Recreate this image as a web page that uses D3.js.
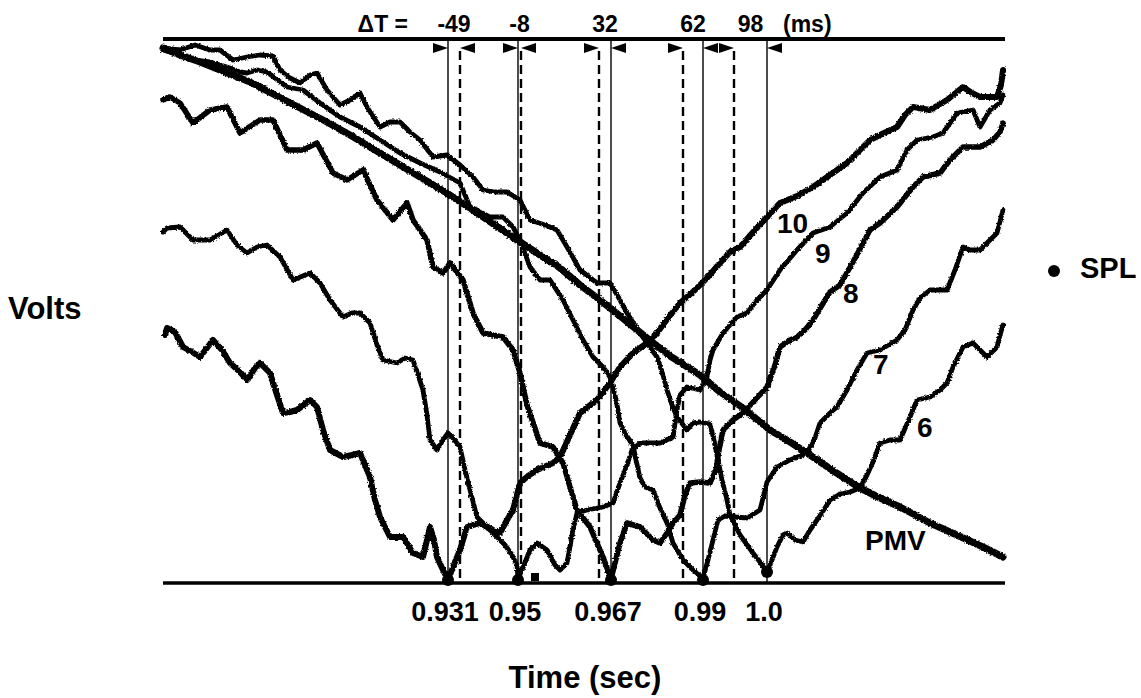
<!DOCTYPE html>
<html>
<head>
<meta charset="utf-8">
<script src="https://cdn.jsdelivr.net/npm/d3@7"></script>
<style>
  html, body { margin: 0; padding: 0; background: #fff; }
  svg { display: block; }
  text { font-family: "Liberation Sans", Arial, Helvetica, sans-serif; font-weight: bold; fill: #000; }
</style>
</head>
<body>
<div id="chart"></div>
<script>
// ---- data (time in samples of 0.5 ms from left edge, voltage in centivolts) ----
const pmv = [[0,535],[17,528],[37,521],[62,511],[87,501],[112,488],[137,475],[162,462],[187,448],[212,433],[237,418],[262,403],[282,391],[307,375],[332,358],[354,343],[377,328],[397,315],[417,298],[437,283],[457,267],[484,245],[507,227],[537,208],[557,191],[580,175],[607,153],[627,141],[644,130],[672,111],[697,95],[717,85],[737,76],[767,60],[787,51],[807,42],[822,35],[840,26]];

const trace10 = [[2,248],[4,255],[12,251],[20,236],[29,231],[37,226],[50,243],[59,233],[67,220],[77,211],[84,203],[92,215],[97,220],[107,210],[114,188],[120,170],[127,171],[134,173],[147,183],[154,176],[160,153],[167,133],[180,126],[189,128],[197,130],[207,106],[212,83],[217,66],[227,46],[240,46],[250,30],[255,28],[260,26],[264,43],[267,56],[271,43],[274,26],[280,13],[285,3],[292,21],[297,33],[304,56],[317,60],[330,53],[337,50],[344,63],[350,73],[357,100],[365,107],[374,113],[390,120],[397,126],[407,148],[417,170],[434,183],[447,200],[457,216],[470,230],[484,240],[494,250],[505,265],[517,280],[532,293],[544,305],[557,320],[567,331],[577,336],[592,353],[604,366],[617,380],[634,387],[650,396],[667,408],[684,420],[697,433],[707,443],[721,450],[734,456],[742,468],[750,476],[767,473],[784,483],[800,496],[809,490],[817,486],[834,486],[838,498],[840,513]];

const trace9 = [[0,351],[4,355],[17,356],[30,343],[47,343],[64,353],[74,338],[84,330],[94,336],[104,338],[117,326],[130,303],[147,310],[157,300],[167,283],[180,266],[189,270],[197,270],[207,260],[214,238],[220,223],[234,220],[242,225],[250,223],[255,208],[260,193],[264,168],[267,143],[274,133],[280,143],[285,150],[289,146],[297,136],[302,113],[307,93],[314,66],[327,53],[342,38],[349,28],[354,18],[355,5],[359,13],[367,33],[374,40],[384,33],[392,18],[397,13],[404,20],[410,53],[414,70],[424,73],[440,76],[450,80],[457,100],[464,118],[469,133],[477,140],[497,140],[510,146],[514,173],[517,188],[524,196],[537,193],[544,206],[547,223],[550,233],[560,250],[574,266],[584,270],[594,283],[604,293],[617,313],[634,333],[650,350],[667,356],[684,370],[700,390],[717,406],[734,413],[744,433],[754,443],[770,446],[780,450],[794,470],[810,473],[817,456],[827,473],[837,480],[840,488]];

const trace8 = [[0,483],[7,486],[17,480],[30,460],[47,473],[64,476],[77,450],[97,463],[110,463],[124,433],[140,433],[154,440],[170,410],[184,403],[200,413],[214,383],[230,363],[244,380],[250,363],[264,343],[270,316],[280,310],[287,320],[300,303],[310,270],[320,250],[340,246],[350,233],[357,210],[364,178],[377,140],[390,136],[400,120],[407,96],[414,73],[427,56],[440,26],[448,4],[457,40],[464,60],[477,56],[490,43],[497,40],[504,50],[510,60],[517,68],[522,88],[527,100],[537,101],[547,100],[553,113],[556,133],[560,153],[570,163],[580,170],[592,183],[604,196],[612,218],[617,236],[627,243],[634,246],[642,253],[650,263],[659,278],[667,291],[677,298],[690,321],[699,338],[707,353],[717,360],[734,376],[742,386],[750,396],[760,406],[777,410],[787,423],[800,436],[817,436],[830,443],[837,451],[840,460]];

const trace7 = [[0,533],[17,528],[30,523],[47,521],[64,516],[77,511],[84,510],[94,513],[104,511],[124,496],[140,493],[157,480],[177,466],[197,456],[217,443],[237,430],[257,420],[277,411],[297,400],[307,376],[314,373],[327,366],[340,366],[350,356],[357,343],[367,316],[377,303],[387,303],[400,283],[410,263],[420,243],[430,226],[440,216],[447,206],[452,188],[455,173],[457,160],[463,148],[470,138],[473,123],[477,105],[482,96],[490,93],[497,75],[504,60],[510,40],[520,23],[530,13],[540,5],[545,23],[550,43],[555,63],[562,67],[572,66],[584,65],[597,73],[604,101],[614,116],[627,123],[644,130],[652,145],[657,160],[667,170],[674,176],[684,193],[694,213],[704,230],[717,233],[734,243],[742,253],[750,273],[757,285],[767,293],[784,293],[792,313],[800,336],[807,333],[817,333],[827,343],[834,350],[840,373]];

const trace6 = [[0,535],[17,533],[32,538],[47,533],[57,533],[70,523],[84,526],[97,528],[110,527],[117,513],[127,505],[137,500],[147,508],[154,510],[164,493],[177,478],[187,483],[197,490],[204,476],[217,456],[227,461],[237,461],[247,451],[257,443],[270,426],[284,428],[297,418],[310,406],[320,393],[332,391],[344,391],[357,383],[367,363],[382,358],[394,353],[404,336],[417,313],[434,300],[447,300],[457,283],[464,270],[477,250],[482,243],[489,233],[494,226],[500,208],[504,193],[509,178],[514,166],[524,153],[530,160],[537,161],[547,159],[551,143],[555,123],[559,103],[564,83],[567,68],[577,48],[590,30],[597,21],[604,11],[609,23],[614,36],[620,48],[624,50],[632,43],[640,41],[647,53],[654,63],[662,75],[667,83],[677,89],[687,91],[697,95],[704,108],[710,121],[717,140],[727,143],[737,143],[747,166],[754,183],[767,186],[777,193],[784,200],[790,216],[800,236],[810,240],[824,226],[834,236],[837,248],[840,258]];

// SPL minima (time, voltage) and their time labels
const splTimes  = [285, 355, 448, 540, 604];
const splValues = [3, 3, 3, 3, 11];
const splLabels = ["0.931", "0.95", "0.967", "0.99", "1.0"];
// dashed reference lines and delta-T labels
const dashedTimes = [297, 358, 436, 520, 571];
const deltaLabels = ["-49", "-8", "32", "62", "98"];
// a stray square marker on the baseline
const squareMark = [372, 6];

const traceNames = ["10", "9", "8", "7", "6"];

// ---- layout ----
const W = 1141, H = 698;
const tMax = 842, vMax = 544;
const x = d3.scaleLinear().domain([0, tMax]).range([163, 1005]);
const y = d3.scaleLinear().domain([0, vMax]).range([583, 39]);

const svg = d3.select("#chart").append("svg").attr("width", W).attr("height", H);
svg.append("rect").attr("width", W).attr("height", H).attr("fill", "#fff");

const defs = svg.append("defs");
const f = defs.append("filter").attr("id", "rough").attr("x", "-5%").attr("y", "-5%").attr("width", "110%").attr("height", "110%");
f.append("feTurbulence").attr("type", "fractalNoise").attr("baseFrequency", 0.6).attr("numOctaves", 2).attr("seed", 3).attr("result", "n");
f.append("feDisplacementMap").attr("in", "SourceGraphic").attr("in2", "n").attr("scale", 3).attr("xChannelSelector", "R").attr("yChannelSelector", "G");

// frame lines
svg.append("line").attr("x1", x(0)).attr("x2", x(tMax)).attr("y1", y(vMax)).attr("y2", y(vMax))
  .attr("stroke", "#000").attr("stroke-width", 4);
svg.append("line").attr("x1", x(0)).attr("x2", x(tMax)).attr("y1", y(0)).attr("y2", y(0))
  .attr("stroke", "#000").attr("stroke-width", 3.5);

// solid reference lines at SPL minima
svg.selectAll("line.solid").data(splTimes).join("line").attr("class", "solid")
  .attr("x1", d => x(d)).attr("x2", d => x(d)).attr("y1", y(vMax)).attr("y2", y(0))
  .attr("stroke", "#000").attr("stroke-width", 1.4);
// dashed lines
svg.selectAll("line.dash").data(dashedTimes).join("line").attr("class", "dash")
  .attr("x1", d => x(d)).attr("x2", d => x(d)).attr("y1", y(vMax) + 12).attr("y2", y(0))
  .attr("stroke", "#000").attr("stroke-width", 2.4).attr("stroke-dasharray", "9,5");

// arrow triangles at the top of each pair
const triY = y(vMax) + 9;
splTimes.forEach((s, i) => {
  const a = Math.min(x(s), x(dashedTimes[i]));
  const b = Math.max(x(s), x(dashedTimes[i]));
  svg.append("path").attr("d", `M${a - 15},${triY - 5}L${a},${triY}L${a - 15},${triY + 5}Z`).attr("fill", "#000");
  svg.append("path").attr("d", `M${b + 15},${triY - 5}L${b},${triY}L${b + 15},${triY + 5}Z`).attr("fill", "#000");
  svg.append("text").attr("x", (a + b) / 2).attr("y", 32).attr("text-anchor", "middle")
    .attr("font-size", 23).text(deltaLabels[i]);
});
svg.append("text").attr("x", 408).attr("y", 32).attr("text-anchor", "end").attr("font-size", 23).text("\u0394T =");
svg.append("text").attr("x", 783).attr("y", 32).attr("font-size", 23).text("(ms)");

// traces
const line = d3.line().x(d => x(d[0])).y(d => y(d[1])).curve(d3.curveLinear);
const g = svg.append("g").attr("filter", "url(#rough)");
const traces = [trace10, trace9, trace8, trace7, trace6];
const widths = [6, 4.8, 5.5, 4.8, 4.8];
traces.forEach((tr, i) => {
  g.append("path").datum(tr).attr("d", line).attr("fill", "none").attr("stroke", "#000")
    .attr("stroke-width", widths[i]).attr("stroke-linejoin", "round").attr("stroke-linecap", "round");
});
g.append("path").datum(pmv).attr("d", line).attr("fill", "none").attr("stroke", "#000")
  .attr("stroke-width", 7).attr("stroke-linejoin", "round").attr("stroke-linecap", "round");

// SPL minima dots
svg.selectAll("circle.spl").data(splTimes).join("circle").attr("class", "spl")
  .attr("cx", d => x(d)).attr("cy", (d, i) => y(splValues[i])).attr("r", 6).attr("fill", "#000");
svg.append("rect").attr("x", x(squareMark[0]) - 4).attr("y", y(squareMark[1]) - 4)
  .attr("width", 8).attr("height", 8).attr("fill", "#000");

// time labels under minima
svg.selectAll("text.tick").data(splTimes).join("text").attr("class", "tick")
  .attr("x", d => x(d) - 3).attr("y", 621).attr("text-anchor", "middle").attr("font-size", 27)
  .text((d, i) => splLabels[i]);

// trace labels
const labelPos = [[777, 233], [815, 263], [843, 303], [873, 374], [917, 437]];
traceNames.forEach((n, i) => {
  svg.append("text").attr("x", labelPos[i][0]).attr("y", labelPos[i][1]).attr("font-size", 28).text(n);
});
svg.append("text").attr("x", 865).attr("y", 550).attr("font-size", 28).text("PMV");

// axis titles and legend
svg.append("text").attr("x", 585).attr("y", 688).attr("text-anchor", "middle").attr("font-size", 31).text("Time (sec)");
svg.append("text").attr("x", 8).attr("y", 319).attr("font-size", 31).text("Volts");
svg.append("circle").attr("cx", 1054).attr("cy", 271).attr("r", 6).attr("fill", "#000");
svg.append("text").attr("x", 1080).attr("y", 278).attr("font-size", 29).text("SPL");
</script>
</body>
</html>
